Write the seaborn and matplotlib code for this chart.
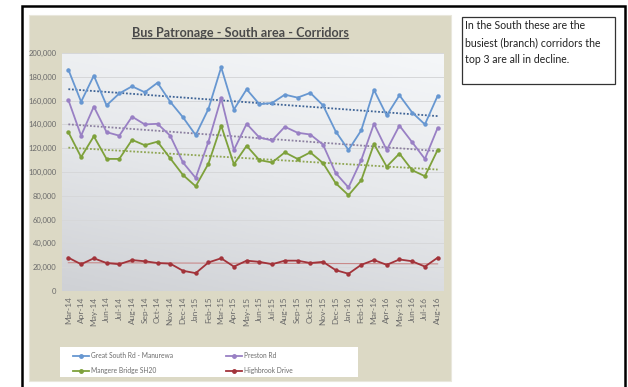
import numpy as np
import pandas as pd
import matplotlib.pyplot as plt
import matplotlib.patches as mpatches
from matplotlib.lines import Line2D
from matplotlib.colors import LinearSegmentedColormap
import seaborn as sns

months = ["Mar-14", "Apr-14", "May-14", "Jun-14", "Jul-14", "Aug-14", "Sep-14", "Oct-14",
          "Nov-14", "Dec-14", "Jan-15", "Feb-15", "Mar-15", "Apr-15", "May-15", "Jun-15",
          "Jul-15", "Aug-15", "Sep-15", "Oct-15", "Nov-15", "Dec-15", "Jan-16", "Feb-16",
          "Mar-16", "Apr-16", "May-16", "Jun-16", "Jul-16", "Aug-16"]

great_south = [186000, 159000, 181000, 156000, 166000, 172000, 167000, 175000, 159000, 146000,
               131000, 153000, 188000, 152500, 169500, 157000, 158000, 165000, 162500, 166500,
               156000, 134000, 118500, 135000, 169000, 147500, 164500, 150000, 140000, 164000]
preston = [160500, 130500, 155000, 133500, 130500, 146500, 140000, 140500, 130500, 108000,
           95000, 125500, 162000, 118500, 140500, 129000, 126500, 138000, 133000, 131500,
           123000, 99000, 87000, 110000, 140500, 118500, 139000, 125000, 111000, 137000]
mangere = [133500, 112500, 130000, 111000, 111000, 127000, 122500, 125500, 111500, 97500,
           88000, 107000, 139000, 106500, 122000, 110000, 108000, 116500, 111000, 116500,
           107500, 90500, 80500, 93000, 123500, 104500, 115500, 101500, 96500, 118500]
highbrook = [28000, 22500, 27500, 23500, 22500, 26000, 25000, 23500, 23000, 17000,
             15000, 24000, 27500, 20500, 25500, 24500, 22500, 25500, 25500, 23500,
             24500, 17500, 14500, 22000, 26000, 22000, 26500, 25000, 20500, 28000]

series_names = ["Great South Rd - Manurewa", "Mangere Bridge SH20", "Preston Rd", "Highbrook Drive"]
series_values = [great_south, mangere, preston, highbrook]
line_colors = ["#6797D1", "#7EA13B", "#9980C4", "#A2333A"]
trend_colors = ["#3F6496", "#8FA653", "#8C80A0", "#C98A8A"]

plt.rcParams["font.family"] = ["Lato", "DejaVu Sans"]

fig = plt.figure(figsize=(6.28, 3.87), dpi=100)
W, H = 628, 387


def fx(px):
    return px / W


def fy(py):
    return 1 - py / H


# outer black frame and beige chart panel (behind the axes)
fig.patches.append(mpatches.Rectangle((fx(22), fy(420)), fx(603), 420 / H - 6 / H,
                                      transform=fig.transFigure, fill=False,
                                      edgecolor="black", linewidth=1.8, zorder=-10))
fig.patches.append(mpatches.Rectangle((fx(29), fy(381)), fx(422), 366 / H,
                                      transform=fig.transFigure, facecolor="#DCD9C5",
                                      edgecolor="#E9E7DC", linewidth=0.8, zorder=-9))
# white legend box
fig.patches.append(mpatches.Rectangle((fx(60), fy(377)), fx(298), 30 / H,
                                      transform=fig.transFigure, facecolor="white",
                                      edgecolor="none", zorder=-8))

ax = fig.add_axes([fx(62), fy(291), fx(382), 238 / H])
ax.set_zorder(1)

# plot area gradient
gx, gy = np.meshgrid(np.linspace(0, 1, 200), np.linspace(0, 1, 200))
grad = 0.75 * gy + 0.25 * (1 - gx)
cmap = LinearSegmentedColormap.from_list("bg", ["#F5F7F9", "#E6E8EB", "#CFD1D5"])
ax.imshow(grad, extent=[0, 1, 0, 1], transform=ax.transAxes, aspect="auto",
          cmap=cmap, zorder=0, origin="upper")

rows = []
for name, vals in zip(series_names, series_values):
    for i, v in enumerate(vals):
        rows.append({"idx": i, "value": v, "route": name})
df = pd.DataFrame(rows)

# linear trendlines
for name, tcol in zip(series_names, trend_colors):
    sub = df[df["route"] == name]
    sns.regplot(data=sub, x="idx", y="value", scatter=False, ci=None, truncate=True, ax=ax,
                line_kws=dict(color=tcol, linestyle=(0, (1, 1)) if name != "Highbrook Drive" else "-",
                              linewidth=1.3 if name != "Highbrook Drive" else 0.8, zorder=2))

sns.lineplot(data=df, x="idx", y="value", hue="route", hue_order=series_names,
             palette=line_colors, marker="o", markersize=3.2, markeredgewidth=0,
             linewidth=1.3, ax=ax, legend=False, zorder=3)

ax.set_xlim(-0.5, len(months) - 0.5)
ax.set_ylim(0, 200000)
ax.set_yticks(np.arange(0, 200001, 20000))
ax.set_yticklabels([f"{v:,}" for v in range(0, 200001, 20000)], fontsize=5.5, color="#6B6B6B")
ax.set_xticks(range(len(months)))
ax.set_xticklabels(months, rotation=90, fontsize=6, color="#6B6B6B")
ax.tick_params(length=0, pad=4)
ax.grid(axis="y", color="#D6D7D9", linewidth=0.7, zorder=1)
ax.set_axisbelow(True)
ax.set_xlabel("")
ax.set_ylabel("")
for s in ax.spines.values():
    s.set_visible(False)

# title with underline
title = fig.text(fx(240), fy(33), "Bus Patronage - South area - Corridors", ha="center",
                 va="center", fontsize=9.1, fontweight="bold", color="#4A4A4A")
fig.canvas.draw()
bb = title.get_window_extent().transformed(fig.transFigure.inverted())
fig.add_artist(Line2D([bb.x0, bb.x1], [bb.y0 + 0.002, bb.y0 + 0.002], transform=fig.transFigure,
                      color="#4A4A4A", linewidth=0.9))

# legend
handles = [Line2D([0], [0], color=c, linewidth=1.3, marker="o", markersize=2.5) for c in line_colors]
leg = fig.legend(handles, series_names, ncol=2, loc="upper left",
                 bbox_to_anchor=(fx(70), fy(349)), bbox_transform=fig.transFigure,
                 fontsize=4.8, frameon=False, handlelength=2.4, handletextpad=0.25,
                 borderpad=0, labelspacing=1.2, columnspacing=8)
for t in leg.get_texts():
    t.set_color("#6B6B6B")

# comment box
fig.patches.append(mpatches.Rectangle((fx(462), fy(84)), fx(153), 67 / H,
                                      transform=fig.transFigure, fill=False,
                                      edgecolor="#333333", linewidth=0.9))
fig.text(fx(465), fy(20), "In the South these are the\nbusiest (branch) corridors the\ntop 3 are all in decline.",
         ha="left", va="top", fontsize=7.6, color="#222222", linespacing=1.65)

plt.savefig("out.png", dpi=100)
